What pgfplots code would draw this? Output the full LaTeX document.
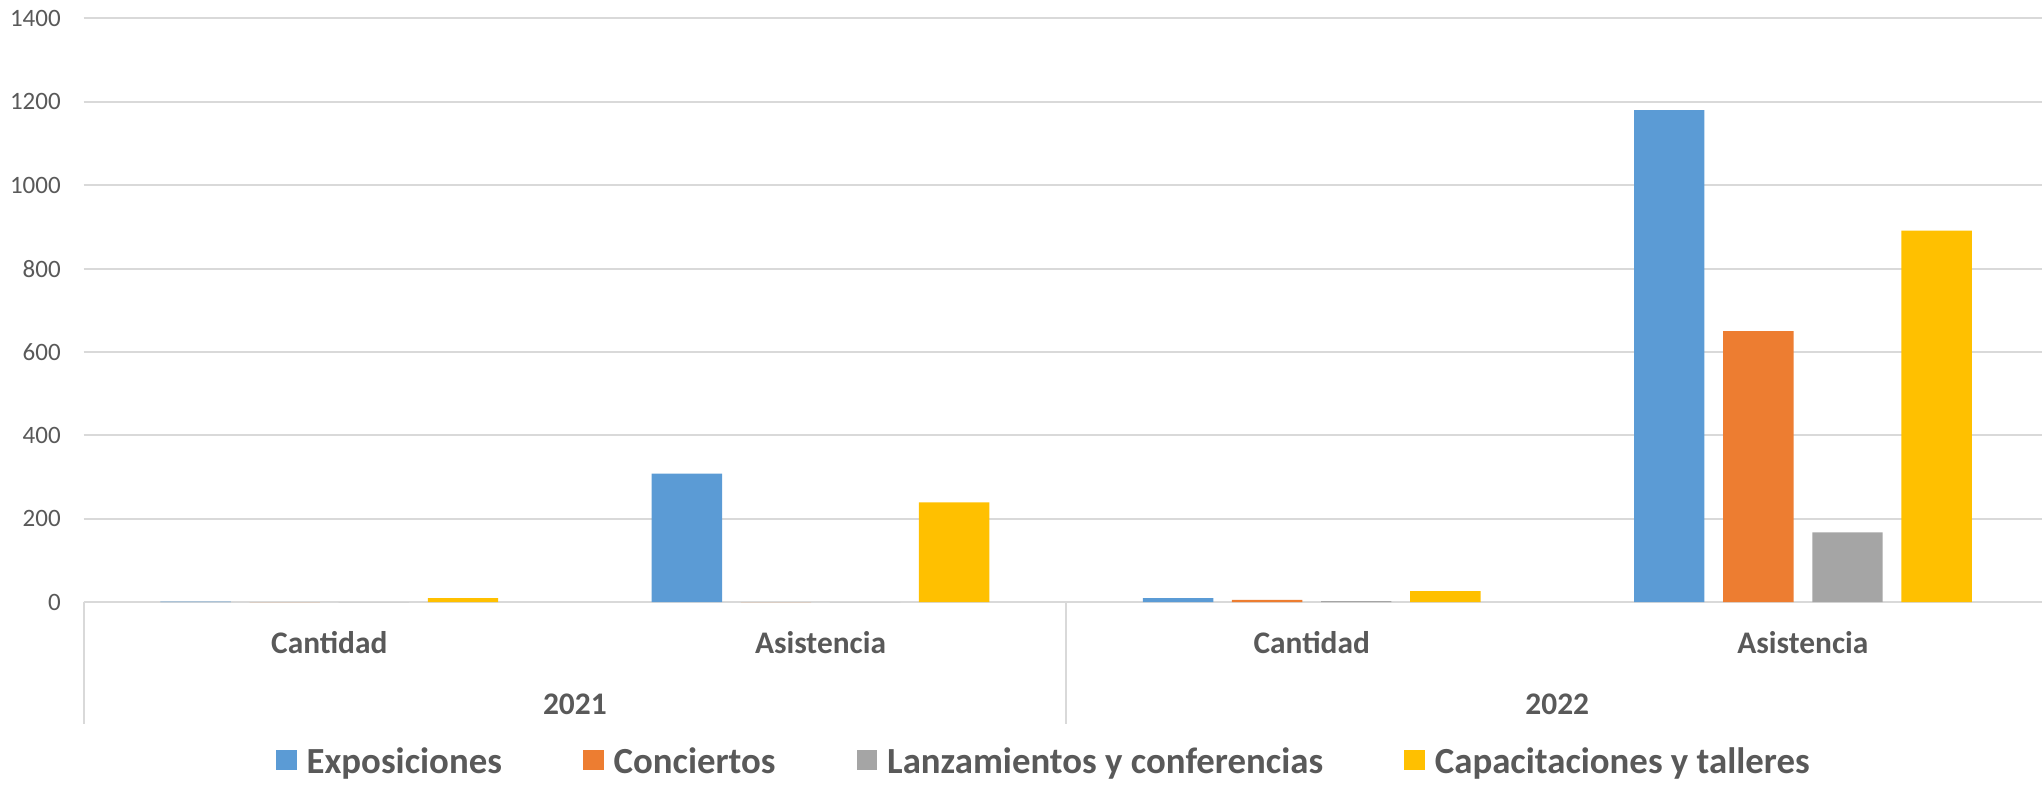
\documentclass[border=0pt]{standalone}
\usepackage{pgfplots}
\usepackage{pgfplotstable}
\pgfplotsset{compat=1.18}
\usepackage{fontspec}
\setmainfont{Carlito}
\definecolor{cBlue}{HTML}{5B9BD5}
\definecolor{cOrange}{HTML}{ED7D31}
\definecolor{cGray}{HTML}{A5A5A5}
\definecolor{cGold}{HTML}{FFC000}
\definecolor{cText}{HTML}{595959}
\definecolor{cGrid}{HTML}{D9D9D9}
\pgfplotstableread{
x expo conc lanz cap
0 1 0 0 9
1 308 0 0 239
2 9 5 2 26
3 1180 650 167 891
}\data
\begin{document}
\begin{tikzpicture}
\begin{axis}[
  name=A,
  scale only axis,
  width=982.4pt, height=291.75pt,
  xmin=-0.5, xmax=3.5,
  ymin=0, ymax=1400,
  ytick={0,200,...,1400},
  xtick={0,1,2,3},
  xticklabels={Cantidad,Asistencia,Cantidad,Asistencia},
  axis line style={draw=none},
  major tick length=0pt,
  ymajorgrids,
  grid style={cGrid, line width=1pt},
  clip=false,
  /pgf/number format/assume math mode=true,
  /pgf/number format/1000 sep={},
  yticklabel style={font=\fontsize{12.5}{14}\selectfont, text=cText, anchor=east, inner sep=0pt, xshift=-11.3pt},
  xticklabel style={font=\bfseries\fontsize{15.7}{18}\selectfont, text=cText, anchor=base, inner sep=0pt, yshift=-25.8pt},
  ybar=9.35pt,
  bar width=35.2pt,
  legend image code/.code={\fill[#1] (0pt,-4pt) rectangle (10.25pt,6.25pt);},
  legend columns=4,
  legend style={
    at={(0.4882,-0.275)}, anchor=center,
    draw=none, fill=none,
    font=\bfseries\fontsize{18.4}{21}\selectfont, text=cText,
    nodes={inner sep=0pt},
    /tikz/every odd column/.append style={column sep=5pt},
    /tikz/every even column/.append style={column sep=40.6pt},
  },
]
\addplot[draw=none, fill=cBlue] table[x=x, y=expo] {\data};
\addlegendentry{Exposiciones}
\addplot[draw=none, fill=cOrange] table[x=x, y=conc] {\data};
\addlegendentry{Conciertos}
\addplot[draw=none, fill=cGray] table[x=x, y=lanz] {\data};
\addlegendentry{Lanzamientos y conferencias}
\addplot[draw=none, fill=cGold] table[x=x, y=cap] {\data};
\addlegendentry{Capacitaciones y talleres}
\draw[cGrid, line width=1pt] (axis cs:-0.5,0) -- ++(0pt,-61pt);
\draw[cGrid, line width=1pt] (axis cs:1.5,0) -- ++(0pt,-61pt);
\draw[cGrid, line width=1pt] (axis cs:3.5,0) -- ++(0pt,-61pt);
\node[anchor=base, inner sep=0pt, text=cText, font=\bfseries\fontsize{15.7}{18}\selectfont] at ([yshift=-56.3pt]axis cs:0.5,0) {2021};
\node[anchor=base, inner sep=0pt, text=cText, font=\bfseries\fontsize{15.7}{18}\selectfont] at ([yshift=-56.3pt]axis cs:2.5,0) {2022};
\end{axis}
\pgfresetboundingbox
\path (A.south west) ++(-41.85pt,-92.5pt) rectangle ++(1021pt,393.5pt);
\end{tikzpicture}
\end{document}
